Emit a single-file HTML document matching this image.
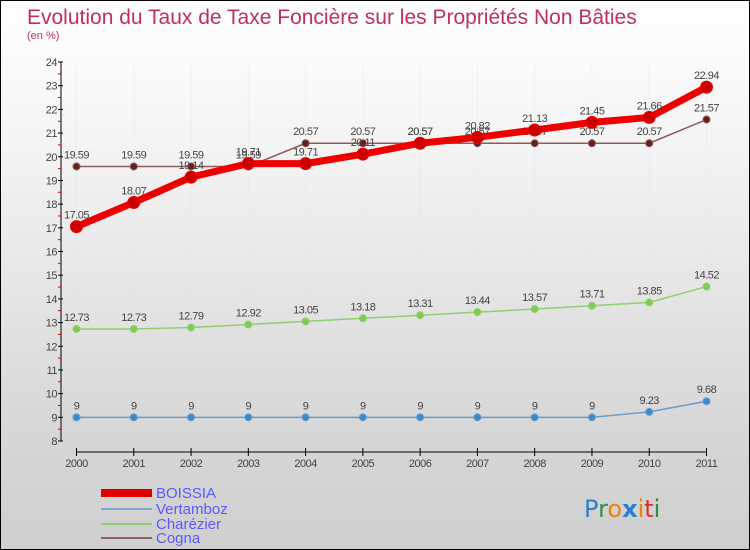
<!DOCTYPE html>
<html><head><meta charset="utf-8"><style>
body{margin:0;}
#c{width:748px;height:548px;border:1px solid #000;background:linear-gradient(#ffffff,#f2f2f2 30%,#d6d6d6 80%,#cfcfcf);position:relative;overflow:hidden;font-family:"Liberation Sans",sans-serif;}
</style></head><body>
<div id="c">
<svg id="s" width="748" height="548" xmlns="http://www.w3.org/2000/svg">
<text x="26" y="23" font-size="21" fill="#c0305a">Evolution du Taux de Taxe Foncière sur les Propriétés Non Bâties</text>
<text x="26" y="38" font-size="11" fill="#c0305a">(en %)</text>
<g id="axes"></g><g id="series"></g>
<g>
<rect x="100" y="488" width="51" height="8" fill="#e00000"/>
<text x="155" y="497" font-size="15" fill="#5a5aff">BOISSIA</text>
<rect x="100" y="507" width="51" height="2" fill="#7aa8d0"/>
<text x="155" y="513" font-size="15" fill="#5a5aff">Vertamboz</text>
<rect x="100" y="522" width="51" height="2" fill="#90d070"/>
<text x="155" y="528" font-size="15" fill="#5a5aff">Charézier</text>
<rect x="100" y="536" width="51" height="2" fill="#906060"/>
<text x="155" y="542" font-size="15" fill="#5a5aff">Cogna</text>
</g>
<text x="583" y="516" font-size="24" font-family="'DejaVu Sans',sans-serif"><tspan fill="#2a7fd0">P</tspan><tspan fill="#2a9040">r</tspan><tspan fill="#f08010">o</tspan><tspan fill="#2a7fd0" font-weight="bold">x</tspan><tspan fill="#f08010">i</tspan><tspan fill="#e03020">t</tspan><tspan fill="#2a9040">i</tspan></text>
</svg>
</div>
<script>
const years=["2000","2001","2002","2003","2004","2005","2006","2007","2008","2009","2010","2011"];
const yTicks=[8,9,10,11,12,13,14,15,16,17,18,19,20,21,22,23,24];
const boissia=[17.05,18.07,19.14,19.71,19.71,20.11,20.57,20.82,21.13,21.45,21.66,22.94];
const vertamboz=[9,9,9,9,9,9,9,9,9,9,9.23,9.68];
const charezier=[12.73,12.73,12.79,12.92,13.05,13.18,13.31,13.44,13.57,13.71,13.85,14.52];
const cogna=[19.59,19.59,19.59,19.59,20.57,20.57,20.57,20.57,20.57,20.57,20.57,21.57];
const NS="http://www.w3.org/2000/svg";
const X=i=>75.5+i*(705.5-75.5)/11;
const Y=v=>440-(v-8)*(440-61)/16;
function mk(t,a,p){const e=document.createElementNS(NS,t);for(const k in a)e.setAttribute(k,a[k]);p.appendChild(e);return e;}
const ax=document.getElementById('axes'),sr=document.getElementById('series');
let l=mk('line',{x1:60,y1:61,x2:60,y2:440,stroke:'#000'},ax);


yTicks.forEach(v=>{
 mk('line',{x1:57,x2:62,y1:Y(v),y2:Y(v),stroke:'#000'},ax);
 if(v<24)mk('line',{x1:57,x2:60,y1:Y(v+0.5),y2:Y(v+0.5),stroke:'#d00'},ax);
 const t=mk('text',{x:56,y:Y(v)+4,'font-size':11,'text-anchor':'end',fill:'#444','letter-spacing':'-0.5'},ax);
 t.textContent=v;
 
 
});
l=mk('line',{x1:75.5,y1:451,x2:705.5,y2:451,stroke:'#000'},ax);


years.forEach((y,i)=>{
 mk('line',{x1:X(i),x2:X(i),y1:447,y2:455,stroke:'#000'},ax);
 mk('line',{x1:X(i),x2:X(i),y1:61,y2:447,stroke:'#ddd','stroke-dasharray':'1,3'},ax);
 const t=mk('text',{x:X(i),y:466,'font-size':11,'text-anchor':'middle',fill:'#444','letter-spacing':'-0.5'},ax);
 t.textContent=y;
 
 
});
function series(name,data,color,dot,w,r,lab){
 const g=mk('g',{},sr);
 
 
 mk('polyline',{points:data.map((v,i)=>X(i)+','+Y(v)).join(' '),fill:'none',stroke:color,'stroke-width':w,'stroke-linejoin':'round'},g);
 data.forEach((v,i)=>{
  const c=mk('circle',{cx:X(i),cy:Y(v),r:r,fill:dot,stroke:color,'stroke-width':1},g);
  
  
  const t=mk('text',{x:X(i),y:Y(v)-8,'font-size':11,'text-anchor':'middle',fill:'#444','letter-spacing':'-0.5'},g);
  t.textContent=String(v);
  
  
 });
}
series('vertamboz',vertamboz,'#6a9ccc','#3f88c8',1.5,3.5);
series('charezier',charezier,'#90d070','#80cc50',1.5,3.5);
series('cogna',cogna,'#905a5a','#602020',1.5,3.5);
series('boissia',boissia,'#ee0000','#cc0000',7,6);
</script>
</body></html>
